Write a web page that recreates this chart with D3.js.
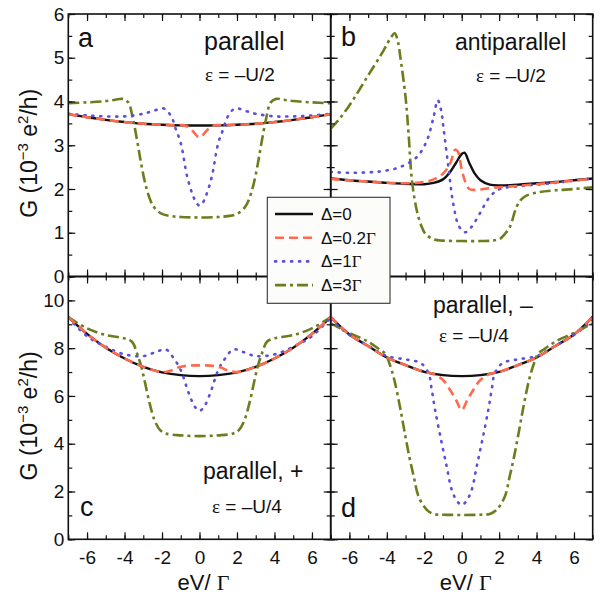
<!DOCTYPE html>
<html>
<head>
<meta charset="utf-8">
<script src="https://cdn.jsdelivr.net/npm/d3@7"></script>
<style>
body { margin: 0; background: #fff; }
text { font-family: "Liberation Sans", Arial, sans-serif; fill: #111; }
</style>
</head>
<body>
<svg id="chart" width="600" height="597"></svg>
<script>
// conductance curves: [eV/Gamma, G]
var aD0 = [[-7,3.71],[-6,3.64],[-5,3.58],[-4,3.53],[-3,3.49],[-2,3.47],[-1,3.455],[0,3.45],[1,3.455],[2,3.47],[3,3.49],[4,3.53],[5,3.58],[6,3.64],[7,3.71]];
var aD02 = [[-7,3.71],[-6,3.64],[-5,3.58],[-4,3.53],[-3,3.49],[-2,3.47],[-1.3,3.46],[-0.9,3.46],[-0.6,3.42],[-0.35,3.32],[-0.15,3.22],[0,3.18],[0.15,3.22],[0.35,3.32],[0.6,3.42],[0.9,3.46],[1.3,3.46],[2,3.47],[3,3.49],[4,3.53],[5,3.58],[6,3.64],[7,3.71]];
var aD1 = [[-7,3.72],[-6,3.68],[-5,3.66],[-4,3.66],[-3,3.72],[-2.5,3.78],[-1.9,3.84],[-1.5,3.65],[-1.25,3.35],[-1,3.05],[-0.65,2.27],[-0.35,1.85],[-0.15,1.67],[0,1.62],[0.15,1.67],[0.35,1.85],[0.65,2.27],[1,3.05],[1.25,3.35],[1.5,3.65],[1.9,3.84],[2.5,3.78],[3,3.72],[4,3.66],[5,3.66],[6,3.68],[7,3.72]];
var aD3 = [[-7,3.96],[-6,3.98],[-5,4.01],[-4.5,4.04],[-4.1,4.06],[-3.8,3.98],[-3.55,3.6],[-3.3,3.04],[-3.1,2.55],[-2.85,2.05],[-2.6,1.72],[-2.4,1.57],[-2,1.43],[-1.5,1.38],[-1,1.36],[0,1.35],[1,1.36],[1.5,1.38],[2,1.43],[2.4,1.57],[2.6,1.72],[2.85,2.05],[3.1,2.55],[3.3,3.04],[3.55,3.6],[3.8,3.98],[4.1,4.06],[4.5,4.04],[5,4.01],[6,3.98],[7,3.96]];

var bD0 = [[-7,2.24],[-6,2.2],[-5,2.17],[-4,2.14],[-3,2.12],[-2,2.11],[-1.5,2.14],[-1,2.22],[-0.6,2.4],[-0.3,2.6],[0,2.8],[0.15,2.83],[0.4,2.6],[0.7,2.35],[1,2.2],[1.5,2.1],[2,2.08],[3,2.1],[4,2.13],[5,2.16],[6,2.2],[7,2.24]];
var bD02 = [[-7,2.23],[-5,2.17],[-3,2.13],[-2,2.16],[-1.5,2.22],[-1,2.35],[-0.6,2.6],[-0.35,2.9],[-0.2,2.85],[0,2.45],[0.2,2.15],[0.4,2.0],[0.7,1.98],[1,1.99],[1.5,2.02],[2,2.04],[3,2.07],[4,2.11],[5,2.15],[6,2.19],[7,2.24]];
var bD1 = [[-7,2.39],[-6,2.37],[-5,2.38],[-4.2,2.41],[-3.3,2.5],[-2.4,2.73],[-1.86,3.11],[-1.5,3.65],[-1.28,4.03],[-1.1,3.8],[-0.98,3.42],[-0.71,2.5],[-0.45,1.66],[-0.15,1.15],[0.18,1.01],[0.5,1.12],[0.97,1.44],[1.5,1.82],[2.04,2.0],[3,2.06],[4,2.1],[5,2.14],[6,2.19],[7,2.24]];
var bD3 = [[-7,3.38],[-6.5,3.62],[-5.94,3.95],[-5.05,4.56],[-4.17,5.17],[-3.8,5.45],[-3.58,5.56],[-3.4,5.35],[-3.28,5.02],[-3.0,4.1],[-2.84,3.27],[-2.66,2.2],[-2.4,1.51],[-2.15,1.15],[-1.95,0.98],[-1.5,0.85],[-1,0.82],[0,0.81],[1,0.81],[1.6,0.82],[2.04,0.86],[2.3,0.97],[2.57,1.13],[2.93,1.59],[3.2,1.77],[3.46,1.85],[4.16,1.93],[5,1.97],[6,2.0],[7,2.04]];

var cD0 = [[-7,9.3],[-6,8.6],[-5,8.02],[-4,7.57],[-3,7.22],[-2,6.99],[-1,6.87],[0,6.83],[1,6.87],[2,6.99],[3,7.22],[4,7.57],[5,8.02],[6,8.6],[7,9.3]];
var cD02 = [[-7,9.3],[-6,8.6],[-5,8.02],[-4,7.57],[-3,7.22],[-2,7.0],[-1.5,7.07],[-1.1,7.2],[-0.6,7.27],[0,7.28],[0.6,7.27],[1.1,7.2],[1.5,7.07],[2,7.0],[3,7.22],[4,7.57],[5,8.02],[6,8.6],[7,9.3]];
var cD1 = [[-7,9.28],[-6,8.5],[-5,8.06],[-4,7.74],[-3,7.67],[-2.3,7.85],[-1.8,7.95],[-1.37,7.57],[-1,7.08],[-0.57,6.11],[-0.25,5.55],[0,5.38],[0.25,5.55],[0.57,6.11],[1,7.08],[1.37,7.57],[1.8,7.95],[2.3,7.85],[3,7.67],[4,7.74],[5,8.06],[6,8.5],[7,9.28]];
var cD3 = [[-7,9.3],[-6,8.83],[-5,8.55],[-4,8.41],[-3.6,8.27],[-3.33,7.78],[-3.1,7.22],[-2.9,6.53],[-2.66,5.69],[-2.4,4.99],[-2.1,4.57],[-1.8,4.43],[-1,4.35],[0,4.32],[1,4.35],[1.8,4.43],[2.1,4.57],[2.4,4.99],[2.66,5.69],[2.9,6.53],[3.1,7.22],[3.33,7.78],[3.6,8.27],[4,8.41],[5,8.55],[6,8.83],[7,9.3]];

var dD0 = [[-7,9.31],[-6,8.57],[-5,8.09],[-4,7.61],[-3,7.29],[-2,7.01],[-1,6.87],[0,6.83],[1,6.87],[2,7.01],[3,7.29],[4,7.61],[5,8.09],[6,8.57],[7,9.31]];
var dD02 = [[-7,9.31],[-6,8.57],[-5,8.09],[-4,7.61],[-3,7.29],[-2,7.01],[-1.5,6.92],[-1,6.67],[-0.62,6.25],[-0.3,5.83],[0,5.41],[0.3,5.83],[0.62,6.25],[1,6.67],[1.5,6.92],[2,7.01],[3,7.29],[4,7.61],[5,8.09],[6,8.57],[7,9.31]];
var dD1 = [[-7,9.2],[-6,8.55],[-5,8.1],[-4,7.67],[-3,7.53],[-2.2,7.38],[-1.77,6.95],[-1.6,6.25],[-1.42,5.41],[-1.1,4.15],[-0.8,3.04],[-0.53,2.06],[-0.25,1.6],[0,1.43],[0.25,1.6],[0.53,2.06],[0.8,3.04],[1.1,4.15],[1.42,5.41],[1.6,6.25],[1.77,6.95],[2.2,7.38],[3,7.53],[4,7.67],[5,8.1],[6,8.55],[7,9.2]];
var dD3 = [[-7,9.04],[-6,8.64],[-5,8.27],[-4.4,7.95],[-4.1,7.78],[-3.86,7.36],[-3.6,6.67],[-3.3,5.55],[-3.07,4.57],[-2.8,3.46],[-2.56,2.62],[-2.3,1.78],[-1.86,1.23],[-1.5,1.06],[-1,1.03],[0,1.02],[1,1.03],[1.5,1.06],[1.86,1.23],[2.3,1.78],[2.56,2.62],[2.8,3.46],[3.07,4.57],[3.3,5.55],[3.6,6.67],[3.86,7.36],[4.1,7.78],[4.4,7.95],[5,8.27],[6,8.64],[7,9.04]];

var xTicks = [-6, -4, -2, 0, 2, 4, 6];
var yTicksTop = [0, 1, 2, 3, 4, 5, 6];
var yTicksBottom = [0, 2, 4, 6, 8, 10];
var legendLabels = ['\u0394=0', '\u0394=0.2', '\u0394=1', '\u0394=3'];

var styles = [
    {color: '#111', dash: null, cap: 'butt'},
    {color: '#ff6a4d', dash: '9,5', cap: 'butt'},
    {color: '#5a4fd8', dash: '1.2,6.8', cap: 'round'},
    {color: '#6b7d1c', dash: '11,4,3,4', cap: 'butt'}
];

var svg = d3.select('#chart');

var L = 68.3, M = 330.7, R = 592.7;
var T = 14, H = 276.5, B = 539.3;

var panels = [
    {id: 'a', x0: L, x1: M, y0: T, y1: H, ydom: [0, 6], ymaj: yTicksTop, ystep: 0.5, left: true, bottom: false, series: [aD0, aD02, aD1, aD3]},
    {id: 'b', x0: M, x1: R, y0: T, y1: H, ydom: [0, 6], ymaj: yTicksTop, ystep: 0.5, left: false, bottom: false, series: [bD0, bD02, bD1, bD3]},
    {id: 'c', x0: L, x1: M, y0: H, y1: B, ydom: [0, 11], ymaj: yTicksBottom, ystep: 1, left: true, bottom: true, series: [cD0, cD02, cD1, cD3]},
    {id: 'd', x0: M, x1: R, y0: H, y1: B, ydom: [0, 11], ymaj: yTicksBottom, ystep: 1, left: false, bottom: true, series: [dD0, dD02, dD1, dD3]}
];

panels.forEach(function (p) {
    var x = d3.scaleLinear().domain([-7, 7]).range([p.x0, p.x1]);
    var y = d3.scaleLinear().domain(p.ydom).range([p.y1, p.y0]);
    var w = p.x1 - p.x0, h = p.y1 - p.y0;

    var g = svg.append('g');
    var clipId = 'clip-' + p.id;
    g.append('clipPath').attr('id', clipId)
        .append('rect').attr('x', p.x0).attr('y', p.y0).attr('width', w).attr('height', h);

    var line = d3.line()
        .x(function (d) { return x(d[0]); })
        .y(function (d) { return y(d[1]); })
        .curve(d3.curveCatmullRom.alpha(0.5));

    // black underneath, the broken lines on top
    [0, 3, 2, 1].forEach(function (i) {
        g.append('path')
            .attr('clip-path', 'url(#' + clipId + ')')
            .attr('d', line(p.series[i]))
            .attr('fill', 'none')
            .attr('stroke', styles[i].color)
            .attr('stroke-width', i == 0 ? 2.4 : 2.6)
            .attr('stroke-dasharray', styles[i].dash)
            .attr('stroke-linecap', styles[i].cap);
    });

    var minorX = d3.range(-7, 7.01, 1);
    var minorY = d3.range(p.ydom[0], p.ydom[1] + 0.01, p.ystep);

    function ticks(axis, vals, size, fmt) {
        return axis.tickValues(vals).tickSizeInner(-size).tickSizeOuter(0).tickFormat(fmt || '');
    }

    g.append('g').attr('transform', 'translate(0,' + p.y1 + ')')
        .call(ticks(d3.axisBottom(x), xTicks, 7, p.bottom ? function (d) { return String(d); } : null).tickPadding(11));
    g.append('g').attr('transform', 'translate(0,' + p.y1 + ')')
        .call(ticks(d3.axisBottom(x), minorX, 4));
    g.append('g').attr('transform', 'translate(0,' + p.y0 + ')')
        .call(ticks(d3.axisTop(x), xTicks, 7));
    g.append('g').attr('transform', 'translate(0,' + p.y0 + ')')
        .call(ticks(d3.axisTop(x), minorX, 4));
    g.append('g').attr('transform', 'translate(' + p.x0 + ',0)')
        .call(ticks(d3.axisLeft(y), p.ymaj, 7, p.left ? function (d) { return String(d); } : null).tickPadding(4));
    g.append('g').attr('transform', 'translate(' + p.x0 + ',0)')
        .call(ticks(d3.axisLeft(y), minorY, 4));
    g.append('g').attr('transform', 'translate(' + p.x1 + ',0)')
        .call(ticks(d3.axisRight(y), p.ymaj, 7));
    g.append('g').attr('transform', 'translate(' + p.x1 + ',0)')
        .call(ticks(d3.axisRight(y), minorY, 4));

    g.selectAll('.domain').remove();
    g.selectAll('.tick line').attr('stroke', '#111').attr('stroke-width', 1.2);
    g.selectAll('.tick text').style('font-size', '19px').attr('fill', '#111');

    g.append('rect')
        .attr('x', p.x0).attr('y', p.y0).attr('width', w).attr('height', h)
        .attr('fill', 'none').attr('stroke', '#111').attr('stroke-width', 1.6);
});

// panel annotations
function label(x, y, size, parts) {
    var t = svg.append('text').attr('x', x).attr('y', y).style('font-size', size + 'px');
    parts.forEach(function (s) {
        var ts = t.append('tspan').text(s[0]);
        if (s[1]) ts.style('font-family', '"Liberation Serif", "Times New Roman", serif');
    });
    return t;
}

label(78, 47, 27, [['a']]);
label(204, 50, 25, [['parallel']]);
label(205, 81, 19, [['\u03b5', 1], [' = \u2013U/2']]);

label(341, 46, 27, [['b']]);
label(455, 50, 23, [['antiparallel']]);
label(476, 82, 19, [['\u03b5', 1], [' = \u2013U/2']]);

label(80, 516, 27, [['c']]);
label(203, 479, 23, [['parallel, +']]);
label(212, 513, 19, [['\u03b5', 1], [' = \u2013U/4']]);

label(341, 517, 27, [['d']]);
label(433, 313, 23, [['parallel, \u2013']]);
label(439, 342, 19, [['\u03b5', 1], [' = \u2013U/4']]);

// axis titles
[panels[0], panels[2]].forEach(function (p) {
    var cy = (p.y0 + p.y1) / 2 + 8;
    var t = svg.append('text')
        .attr('transform', 'translate(37,' + cy + ') rotate(-90)')
        .attr('text-anchor', 'middle')
        .style('font-size', '23px');
    t.append('tspan').text('G (10');
    t.append('tspan').text('\u22123').attr('dy', -9).style('font-size', '15px');
    t.append('tspan').text(' e').attr('dy', 9);
    t.append('tspan').text('2').attr('dy', -9).style('font-size', '15px');
    t.append('tspan').text('/h)').attr('dy', 9);
});

[panels[2], panels[3]].forEach(function (p) {
    var t = svg.append('text')
        .attr('x', (p.x0 + p.x1) / 2 + 4).attr('y', 590)
        .attr('text-anchor', 'middle')
        .style('font-size', '22px');
    t.append('tspan').text('eV/ ');
    t.append('tspan').text('\u0393').style('font-family', '"Liberation Serif", "Times New Roman", serif');
});

// legend
var lg = svg.append('g');
lg.append('rect')
    .attr('x', 267.3).attr('y', 197.3).attr('width', 122.7).attr('height', 106)
    .attr('fill', '#fcfcfa').attr('stroke', '#333').attr('stroke-width', 1.1);

legendLabels.forEach(function (s, i) {
    var ly = 214 + i * 23.7;
    lg.append('line')
        .attr('x1', 275).attr('x2', 313).attr('y1', ly).attr('y2', ly)
        .attr('stroke', styles[i].color)
        .attr('stroke-width', 2.6)
        .attr('stroke-dasharray', styles[i].dash)
        .attr('stroke-linecap', styles[i].cap);
    var t = lg.append('text').attr('x', 321).attr('y', ly + 6).style('font-size', '17px');
    t.append('tspan').text(s);
    if (i > 0) t.append('tspan').text('\u0393').style('font-family', '"Liberation Serif", "Times New Roman", serif');
});
</script>
</body>
</html>
